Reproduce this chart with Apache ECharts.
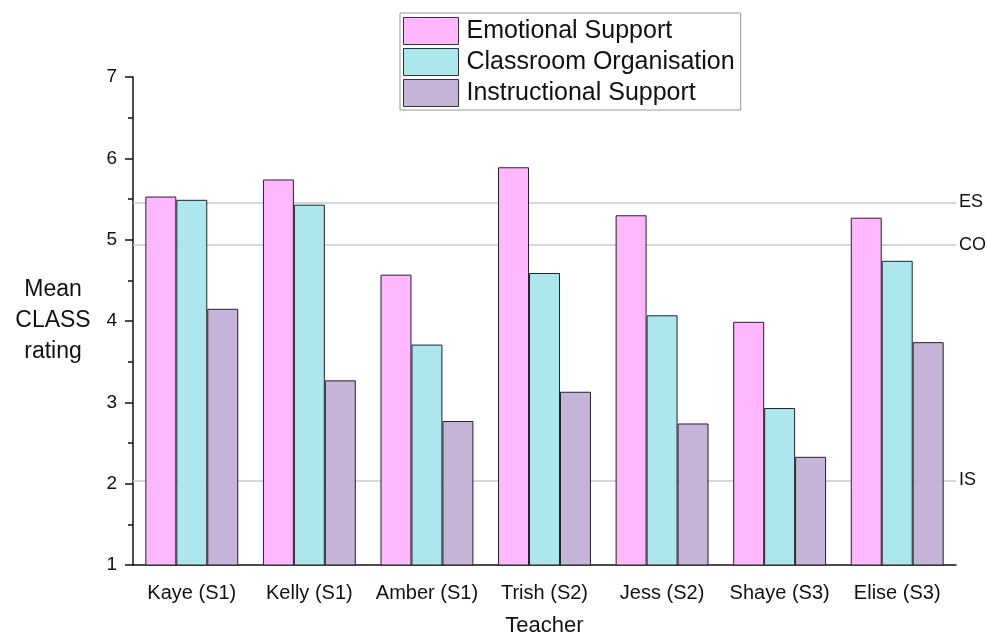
<!DOCTYPE html>
<html lang="en">
<head>
    <meta charset="UTF-8">
    <title>Mean CLASS rating</title>
    <script src="https://cdn.jsdelivr.net/npm/echarts@6/dist/echarts.min.js"></script>
    <style>
        html, body { margin: 0; padding: 0; background: #fff; }
        #main { width: 987px; height: 637px; }
    </style>
</head>
<body>
<div id="main"></div>
<script>
    // teachers on the x axis
    var teachers = ['Kaye (S1)', 'Kelly (S1)', 'Amber (S1)', 'Trish (S2)', 'Jess (S2)', 'Shaye (S3)', 'Elise (S3)'];
    var seriesNames = ['Emotional Support', 'Classroom Organisation', 'Instructional Support'];

    // mean ratings
    var emotional = [5.53, 5.74, 4.57, 5.89, 5.30, 3.99, 5.27];
    var organisation = [5.49, 5.43, 3.71, 4.59, 4.07, 2.93, 4.74];
    var instructional = [4.15, 3.27, 2.77, 3.13, 2.74, 2.33, 3.74];

    // reference lines on the right
    var refNames = ['ES', 'CO', 'IS'];
    var refValues = [5.46, 4.94, 2.04];

    var colors = ['#ffb8ff', '#ade7ee', '#c5b4d8'];
    var font = 'Liberation Sans, Arial, sans-serif';

    var myChart = echarts.init(document.getElementById('main'));

    var barData = [emotional, organisation, instructional];
    var series = [];
    for (var i = 0; i < seriesNames.length; i++) {
        series.push({
            name: seriesNames[i],
            type: 'bar',
            data: barData[i],
            barGap: '0%',
            barCategoryGap: '21%',
            z: 3,
            itemStyle: { color: colors[i], borderColor: '#222', borderWidth: 1 }
        });
    }
    // reference lines go in a dummy series so they stay behind the bars
    var refLines = [];
    for (var j = 0; j < refNames.length; j++) {
        refLines.push({ yAxis: refValues[j], name: refNames[j] });
    }
    series.push({
        type: 'line',
        data: [],
        z: 1,
        silent: true,
        markLine: {
            silent: true,
            symbol: 'none',
            z: 1,
            lineStyle: { color: '#c8c8c8', type: 'solid', width: 1.5 },
            label: { position: 'end', formatter: '{b}', color: '#111', fontSize: 18, fontFamily: font, distance: 3 },
            data: refLines
        }
    });

    var option = {
        backgroundColor: '#fff',
        animation: false,
        textStyle: { fontFamily: font },
        legend: {
            data: seriesNames,
            orient: 'vertical',
            left: 400,
            top: 13,
            icon: 'rect',
            itemWidth: 55,
            itemHeight: 27,
            itemGap: 3,
            padding: [4, 6, 3, 3],
            borderColor: '#999',
            borderWidth: 1,
            backgroundColor: '#fff',
            itemStyle: { borderColor: '#333', borderWidth: 1 },
            textStyle: { fontSize: 25, color: '#111', fontFamily: font, padding: [0, 0, 0, 3] }
        },
        grid: { left: 133, right: 31, top: 77, bottom: 72, containLabel: false, outerBoundsMode: 'none' },
        xAxis: [{
            type: 'category',
            data: teachers,
            name: 'Teacher',
            nameLocation: 'middle',
            nameGap: 50,
            nameTextStyle: { fontSize: 22, color: '#111', fontFamily: font },
            axisLine: { lineStyle: { color: '#111', width: 1.5 } },
            axisTick: { alignWithLabel: true, length: 8, lineStyle: { color: '#111', width: 1.5 } },
            axisLabel: { fontSize: 20, color: '#111', margin: 18, fontFamily: font, interval: 0 }
        }, {
            // boundary ticks between teachers
            type: 'category',
            data: teachers,
            position: 'bottom',
            axisLine: { show: false },
            axisTick: { length: 4, lineStyle: { color: '#111', width: 1.5 } },
            axisLabel: { show: false }
        }],
        yAxis: {
            type: 'value',
            min: 1,
            max: 7,
            interval: 1,
            name: 'Mean\nCLASS\nrating',
            nameLocation: 'middle',
            nameRotate: 0,
            nameGap: 80,
            nameTextStyle: { fontSize: 23, color: '#111', lineHeight: 31, align: 'center', fontFamily: font },
            splitLine: { show: false },
            axisLine: { show: true, lineStyle: { color: '#111', width: 1.5 } },
            axisTick: { show: true, length: 8, lineStyle: { color: '#111', width: 1.5 } },
            minorTick: { show: true, splitNumber: 2, length: 5, lineStyle: { color: '#111', width: 1.5 } },
            axisLabel: { fontSize: 19, color: '#111', margin: 16, fontFamily: font }
        },
        series: series
    };

    myChart.setOption(option);
</script>
</body>
</html>
